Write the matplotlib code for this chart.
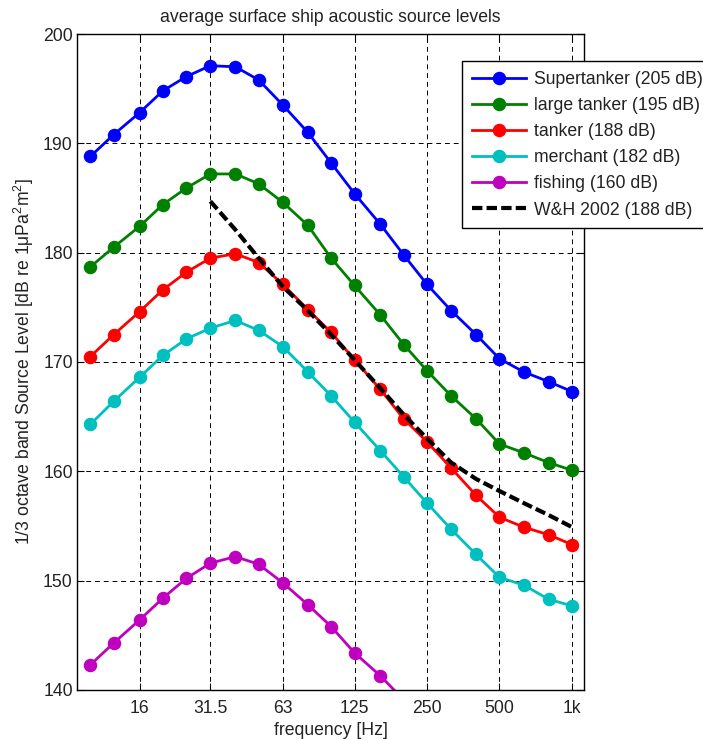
import numpy as np
import matplotlib
matplotlib.use('Agg')
import matplotlib.pyplot as plt

plt.rcParams['font.family'] = ['Liberation Sans', 'DejaVu Sans']
plt.rcParams['mathtext.fontset'] = 'custom'
plt.rcParams['mathtext.rm'] = 'Liberation Sans'
plt.rcParams['mathtext.it'] = 'Liberation Sans:italic'

# 1/3 octave band centre frequencies [Hz]
freqs = [10, 12.5, 16, 20, 25, 31.5, 40, 50, 63, 80, 100, 125, 160, 200,
         250, 315, 400, 500, 630, 800, 1000]

supertanker = [188.8, 190.8, 192.8, 194.8, 196.1, 197.1, 197.0, 195.8, 193.5, 191.0,
               188.2, 185.4, 182.6, 179.8, 177.1, 174.7, 172.5, 170.3, 169.1, 168.2, 167.3]
large_tanker = [178.7, 180.5, 182.4, 184.4, 185.9, 187.2, 187.2, 186.3, 184.6, 182.5,
                179.5, 177.0, 174.3, 171.6, 169.2, 166.9, 164.8, 162.5, 161.7, 160.8, 160.1]
tanker = [170.5, 172.5, 174.6, 176.6, 178.2, 179.5, 179.9, 179.1, 177.1, 174.8,
          172.7, 170.2, 167.5, 164.8, 162.7, 160.3, 157.8, 155.8, 154.9, 154.2, 153.3]
merchant = [164.3, 166.4, 168.6, 170.6, 172.1, 173.1, 173.8, 172.9, 171.4, 169.1,
            166.9, 164.5, 161.9, 159.5, 157.1, 154.7, 152.4, 150.3, 149.6, 148.3, 147.7]
fishing = [142.3, 144.3, 146.4, 148.4, 150.2, 151.6, 152.2, 151.5, 149.8, 147.8,
           145.8, 143.4, 141.3, 139.1, 136.6, 134.2, 132.0, 129.8, 129.0, 127.9, 127.2]

wh_freqs = [31.5, 40, 50, 63, 80, 100, 125, 160, 200, 250, 315, 400, 500, 630, 800, 1000]
wh2002 = [184.7, 182.1, 179.5, 176.9, 174.7, 172.5, 170.2, 167.6, 165.2, 163.0,
          160.8, 159.3, 158.2, 157.1, 156.0, 154.9]

tick_freqs = [16, 31.5, 63, 125, 250, 500, 1000]
tick_labels = ['16', '31.5', '63', '125', '250', '500', '1k']

fs = 12.7

fig = plt.figure(figsize=(7.03, 7.40), dpi=100)
ax = fig.add_axes([77/703, 1-690/740, (584-77)/703, (690-34)/740])

series = [(supertanker, 'b', 'Supertanker (205 dB)'),
          (large_tanker, 'g', 'large tanker (195 dB)'),
          (tanker, 'r', 'tanker (188 dB)'),
          (merchant, 'c', 'merchant (182 dB)'),
          (fishing, 'm', 'fishing (160 dB)')]
for vals, col, lab in series:
    ax.plot(freqs, vals, '-o', color=col, lw=2, ms=8.7, label=lab)

ax.plot(wh_freqs, wh2002, color='k', lw=3, dashes=(2.5, 1.0), label='W&H 2002 (188 dB)')

ax.set_xscale('log')
ax.set_xlim(8.8, 1122)
ax.set_ylim(140, 200)
ax.set_xticks(tick_freqs)
ax.set_xticklabels(tick_labels)
ax.xaxis.set_minor_locator(matplotlib.ticker.NullLocator())
ax.set_yticks(np.arange(140, 201, 10))
ax.tick_params(direction='in', top=True, right=True, labelsize=fs, length=5, width=0.8,
               labelcolor='#222222')
ax.tick_params(axis='x', pad=7)
ax.tick_params(axis='y', pad=3)

ax.grid(True, color='k', lw=0.7, dashes=(5, 4))
for s in ax.spines.values():
    s.set_linewidth(1)

ax.set_title('average surface ship acoustic source levels', fontsize=fs, pad=9, color='#222222')
ax.set_xlabel('frequency [Hz]', fontsize=fs, labelpad=4, color='#222222')
ax.set_ylabel('1/3 octave band Source Level [dB re 1\u03bcPa$^2$m$^2$]', fontsize=fs,
              labelpad=5, color='#222222')

leg = ax.legend(loc='upper left', bbox_to_anchor=(462/703, 1-61/740),
                bbox_transform=fig.transFigure, borderaxespad=0, fontsize=fs,
                numpoints=1, handlelength=3.1, handletextpad=0.45, labelspacing=0.52,
                borderpad=0.55, fancybox=False, framealpha=1)
leg.get_frame().set_edgecolor('k')
leg.get_frame().set_linewidth(1)
for t in leg.get_texts():
    t.set_color('#222222')

fig.savefig('out.png', dpi=100)
